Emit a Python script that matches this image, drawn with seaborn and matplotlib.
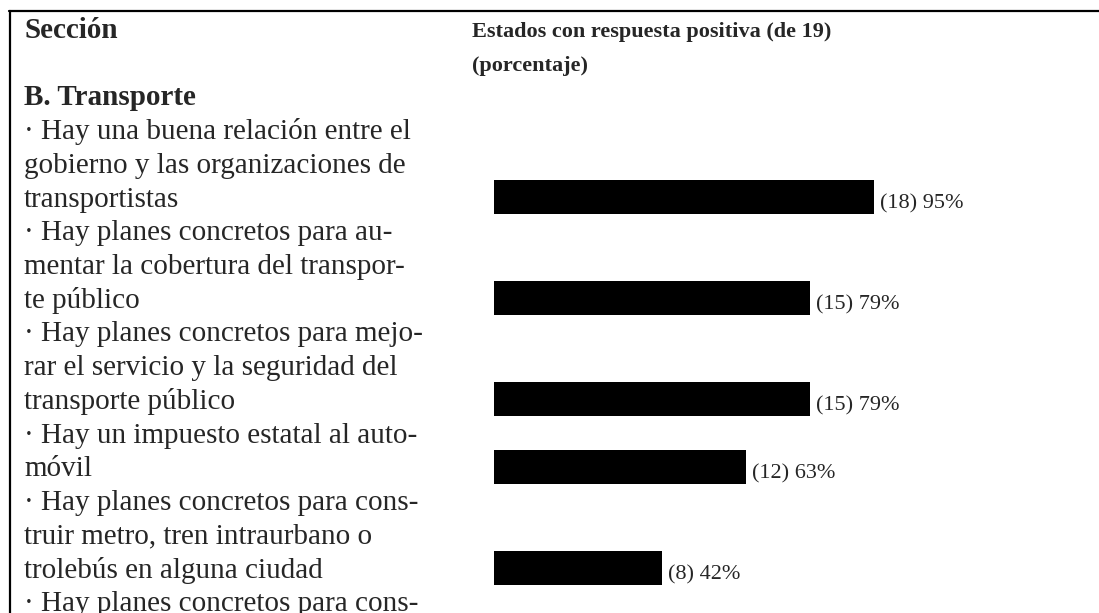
import matplotlib
matplotlib.use("Agg")
import matplotlib.pyplot as plt
from matplotlib.lines import Line2D
import numpy as np
import pandas as pd
import seaborn as sns

# ---------------- data ----------------
section_header = "Sección"
value_header = ["Estados con respuesta positiva (de 19)", "(porcentaje)"]
section_title = "B. Transporte"
item_lines = [
    ["· Hay una buena relación entre el", "gobierno y las organizaciones de", "transportistas"],
    ["· Hay planes concretos para au-", "mentar la cobertura del transpor-", "te público"],
    ["· Hay planes concretos para mejo-", "rar el servicio y la seguridad del", "transporte público"],
    ["· Hay un impuesto estatal al auto-", "móvil"],
    ["· Hay planes concretos para cons-", "truir metro, tren intraurbano o", "trolebús en alguna ciudad"],
]
trailing_line = "· Hay planes concretos para cons-"
state_counts = [18, 15, 15, 12, 8]
percentages = [95, 79, 79, 63, 42]
value_labels = [f"({c}) {p}%" for c, p in zip(state_counts, percentages)]

# ---------------- layout (text rows) ----------------
first_item_row = 3
rows = []
r = first_item_row
for lines in item_lines:
    rows.append(r)
    r += len(lines)
trailing_row = r
bar_rows = [start + len(lines) - 1 for start, lines in zip(rows, item_lines)]
bar_offset = 0.282          # bar centre sits slightly above text baseline
bar_pos = [b - bar_offset for b in bar_rows]

df = pd.DataFrame({"pos": bar_pos, "pct": percentages, "label": value_labels})

W, H = 1099, 613
fig = plt.figure(figsize=(W / 100, H / 100), dpi=100)
sns.set_theme(style="white")
plt.rcParams["font.family"] = ["Liberation Serif", "DejaVu Serif"]
ax = fig.add_axes([0, 0, 1, 1])

sns.barplot(data=df, x="pct", y="pos", orient="y", native_scale=True,
            color="black", saturation=1, width=0.504, errorbar=None,
            linewidth=0, ax=ax)

# pixel mapping: x px = 494 + 4*pct ; y px = 37.9 + 33.73*row
x0, sx = 494, 4.0
y0, sy = 37.9, 33.73
ax.set_xlim(-x0 / sx, (W - x0) / sx)
ax.set_ylim((H - y0) / sy, -y0 / sy)
ax.axis("off")

left_x = (24 - x0) / sx
right_x = (472 - x0) / sx
body_fs = 21

ax.text(left_x, 0, section_header, fontsize=body_fs, fontweight="bold", va="baseline")
ax.text(left_x, 2, section_title, fontsize=body_fs, fontweight="bold", va="baseline")
for start, lines in zip(rows, item_lines):
    for i, line in enumerate(lines):
        ax.text(left_x, start + i, line, fontsize=body_fs, va="baseline")
ax.text(left_x, trailing_row, trailing_line, fontsize=body_fs, va="baseline")

for i, line in enumerate(value_header):
    ax.text(right_x, i - 0.03, line, fontsize=16, fontweight="bold", va="baseline")

for row, pct, lab in zip(bar_rows, percentages, value_labels):
    ax.text(pct + 1.5, row + 0.05, lab, fontsize=16, va="baseline")

# table borders
fig.add_artist(Line2D([9 / W, 1], [1 - 11.3 / H] * 2, color="black", lw=1.6,
                      transform=fig.transFigure))
fig.add_artist(Line2D([10 / W] * 2, [1 - 10.5 / H, 0], color="black", lw=1.6,
                      transform=fig.transFigure))

fig.savefig("out.png", dpi=100)
